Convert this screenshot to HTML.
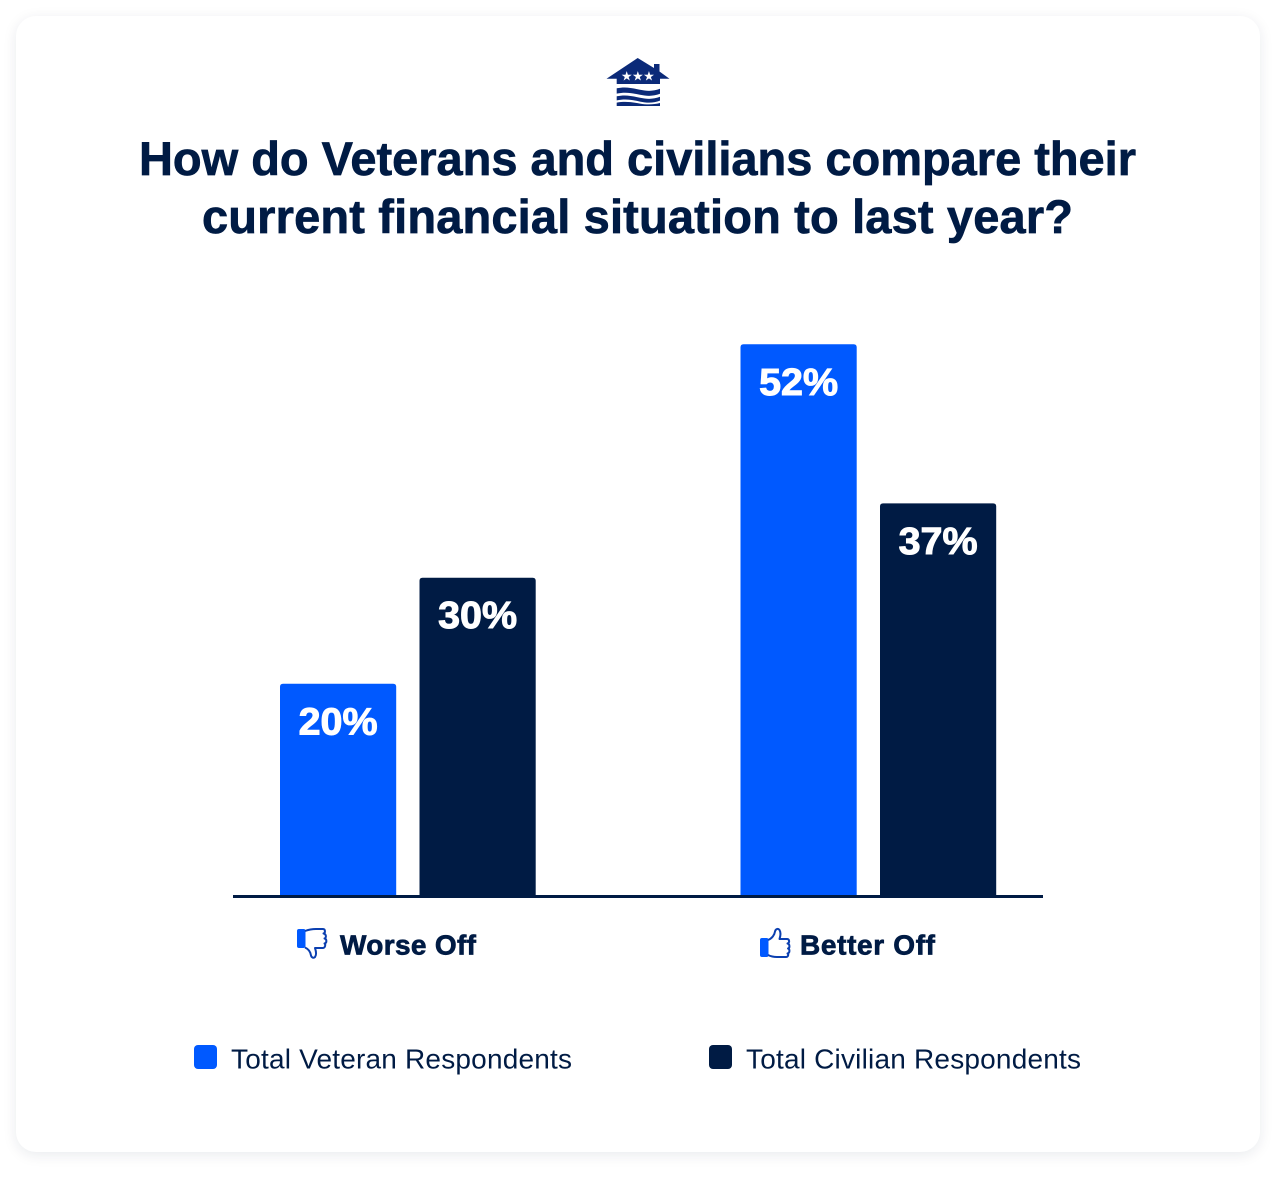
<!DOCTYPE html>
<html lang="en">
<head>
<meta charset="utf-8">
<title>Veterans and civilians financial situation</title>
<style>
html,body{margin:0;padding:0;background:#fff;width:1276px;height:1200px;overflow:hidden}
#card{position:absolute;left:16px;top:16px;width:1244px;height:1136px;border-radius:20px;background:#fff;box-shadow:0 3px 14px rgba(0,32,70,.09)}
#chart{position:absolute;left:0;top:0}
text{font-family:"Liberation Sans",sans-serif;fill:#001b44}
.heavy{stroke:#001b44;stroke-width:.7px;paint-order:stroke}
</style>
</head>
<body>
<div id="card"></div>
<svg id="chart" width="1276" height="1200" viewBox="0 0 1276 1200">
  <g fill="#0b2a78">
    <path d="M637.7 58 L654 68 V64 H659.5 V71.5 L669.5 78.7 H660 V84 H616.7 V78.7 H606.5 Z"/>
    <path d="M616.7 88.3 C626 86.3 633 88.3 640 89.8 C647 91.3 654 91.3 660 88.8 V93.8 C654 96.3 647 96.3 640 94.8 C633 93.3 626 91.6 616.7 93.6 Z"/>
    <path d="M616.7 96.3 C626 94.3 633 96.3 640 97.8 C647 99.3 654 99.3 660 96.8 V100.6 C654 103.1 647 103.1 640 101.6 C633 100.1 626 98.4 616.7 100.4 Z"/>
    <path d="M616.7 102.6 C626 101 633 102.4 640 103.6 C647 104.8 654 104.6 660 103 V106 H616.7 Z"/>
    <text x="626.7" y="80.5" font-size="13" text-anchor="middle" style="fill:#fff">★</text>
    <text x="637.8" y="80.5" font-size="13" text-anchor="middle" style="fill:#fff">★</text>
    <text x="649" y="80.5" font-size="13" text-anchor="middle" style="fill:#fff">★</text>
  </g>
  <text class="heavy" x="139" y="175" font-size="47" font-weight="700" textLength="997" lengthAdjust="spacing">How do Veterans and civilians compare their</text>
  <text class="heavy" x="202" y="233" font-size="47" font-weight="700" textLength="871" lengthAdjust="spacing">current financial situation to last year?</text>

  <g id="plot"></g>

  <rect x="233" y="895" width="810" height="3" fill="#001b44"/>

  <g>
    <rect x="297" y="929" width="8.5" height="19" rx="2" fill="#0059ff"/>
    <path d="M305 931 C309 929.5 312 929 316 929 H323 C325.5 929 325.5 933 323.5 933.5 C326.5 934 326.5 938 324.5 938.5 C327 939 327 943 324.5 943.5 C326 944.5 325 948 323 948 H315 C316 951 316.5 955 315 957 C313.5 958.5 311.5 957.5 311 955.5 C310.5 952 308.5 949 305 947.5" fill="none" stroke="#0b3fb0" stroke-width="2" stroke-linejoin="round"/>
  </g>
  <text class="heavy" x="340" y="954.5" font-size="28" font-weight="700" textLength="136" lengthAdjust="spacing">Worse Off</text>

  <g>
    <rect x="760" y="938" width="8.5" height="19" rx="2" fill="#0059ff"/>
    <path d="M768 940 C772 938.5 774.5 935 775 931.5 C775.5 929 778 928 779.5 930 C781 932.5 780.5 936 779.5 939 H787 C789.5 939 790 943 787.5 943.5 C790 944 790 948 788 948.5 C790 949 790 953 787.5 953.5 C789 954.5 788 957 786 957 H777 C773 957 771 956.5 768 955" fill="none" stroke="#0b3fb0" stroke-width="2" stroke-linejoin="round"/>
  </g>
  <text class="heavy" x="800" y="954.5" font-size="28" font-weight="700" textLength="135" lengthAdjust="spacing">Better Off</text>

  <rect x="194" y="1045" width="23" height="24" rx="4" fill="#0059ff"/>
  <text x="231" y="1068.5" font-size="28" textLength="341" lengthAdjust="spacing">Total Veteran Respondents</text>
  <rect x="709" y="1045" width="23" height="24" rx="4" fill="#001b44"/>
  <text x="746" y="1068.5" font-size="28" textLength="335" lengthAdjust="spacing">Total Civilian Respondents</text>
</svg>
<script>
var categories = ['Worse Off', 'Better Off'];
var veteranValues = [20, 52];
var civilianValues = [30, 37];

var NS = 'http://www.w3.org/2000/svg';
var plot = document.getElementById('plot');
var baseline = 896;
var pxPerPercent = 10.61;
var barWidth = 116.2;

function yScale(v) { return baseline - v * pxPerPercent; }
function groupX(i) { return 280 + i * 460.5; }

function drawBar(x, value, color, name) {
  var y = yScale(value);
  var h = baseline - y;
  var bar = document.createElementNS(NS, 'path');
  bar.setAttribute('d', 'M' + x + ' ' + baseline + 'V' + (y + 3) + 'Q' + x + ' ' + y + ' ' + (x + 3) + ' ' + y +
    'H' + (x + barWidth - 3) + 'Q' + (x + barWidth) + ' ' + y + ' ' + (x + barWidth) + ' ' + (y + 3) + 'V' + (y + h) + 'Z');
  bar.setAttribute('fill', color);
  
  
  plot.appendChild(bar);

  var label = document.createElementNS(NS, 'text');
  label.setAttribute('x', x + barWidth / 2);
  label.setAttribute('y', y + 50.5);
  label.setAttribute('text-anchor', 'middle');
  label.setAttribute('font-size', '38');
  label.setAttribute('font-weight', '700');
  label.setAttribute('textLength', '79');
  label.setAttribute('lengthAdjust', 'spacingAndGlyphs');
  label.setAttribute('style', 'fill:#fff;stroke:#fff;stroke-width:1px');
  
  
  label.textContent = value + '%';
  plot.appendChild(label);
}

categories.forEach(function (cat, i) {
  var slug = cat.toLowerCase().replace(/\s+/g, '-');
  drawBar(groupX(i), veteranValues[i], '#0059ff', 'veteran-' + slug);
  drawBar(groupX(i) + 139.5, civilianValues[i], '#001b44', 'civilian-' + slug);
});
</script>
</body>
</html>
